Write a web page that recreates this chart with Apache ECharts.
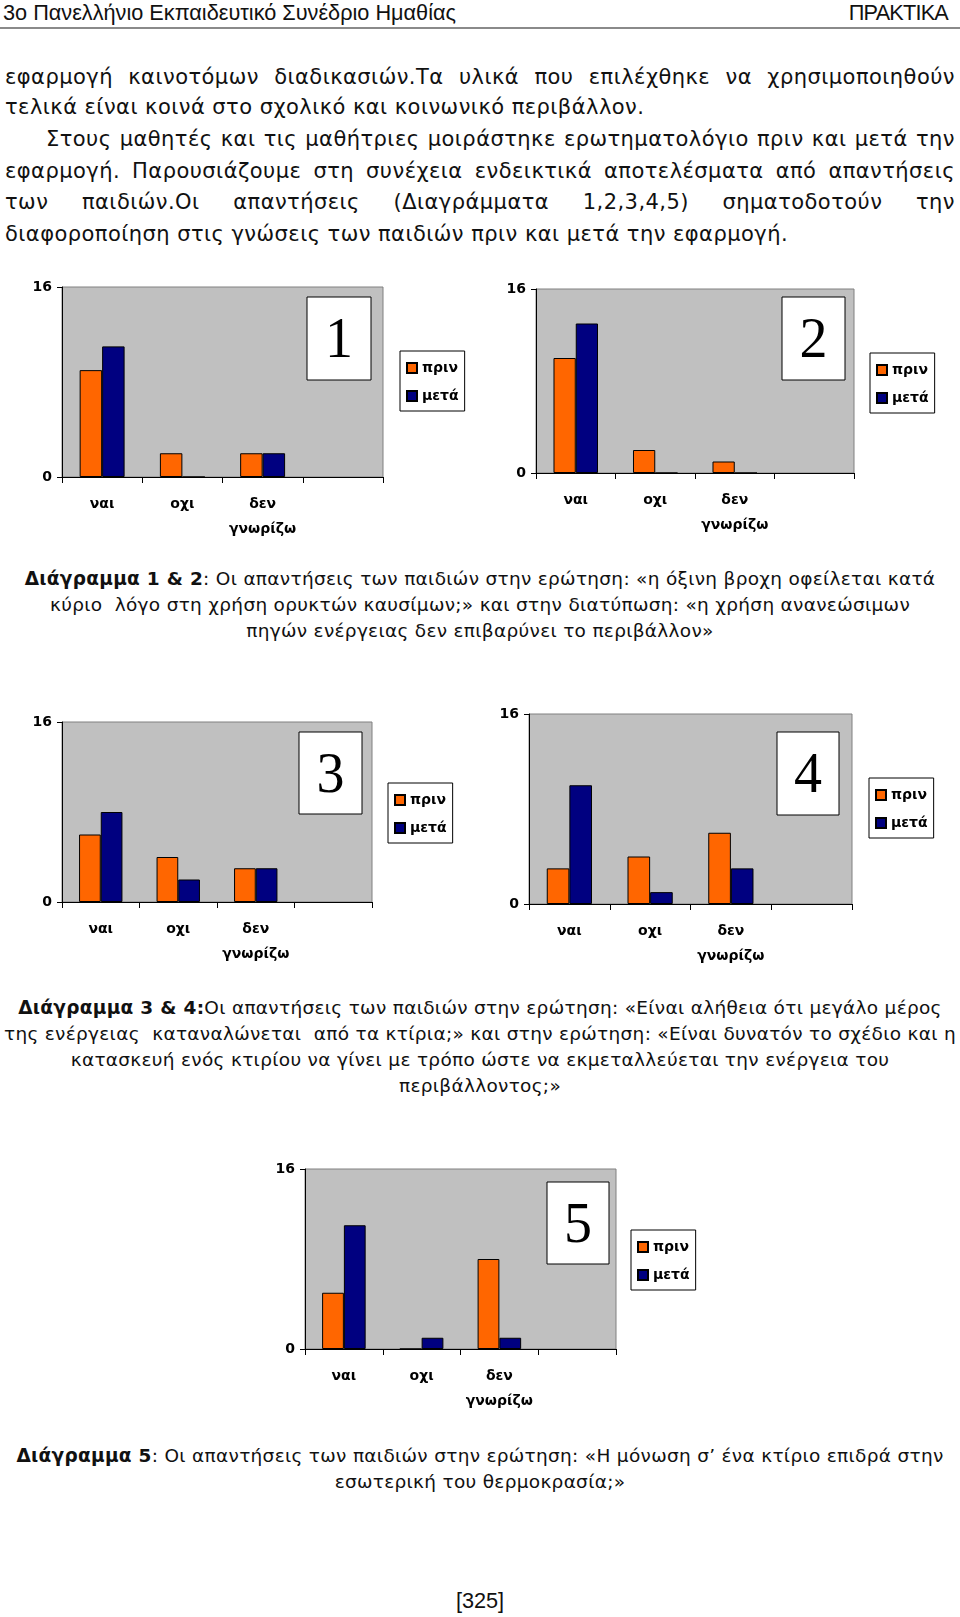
<!DOCTYPE html>
<html>
<head>
<meta charset="utf-8">
<script src="https://cdn.jsdelivr.net/npm/echarts@6/dist/echarts.min.js"></script>
<style>
  html, body { margin:0; padding:0; background:#fff; }
  #page { position:relative; width:960px; height:1617px; overflow:hidden; color:#111; }
  .t { position:absolute; white-space:nowrap; font-family:"DejaVu Sans", sans-serif; }
  .hdr { font-family:"Liberation Sans Narrow","Liberation Sans",sans-serif; font-size:21.7px; line-height:26px; top:0; }
  .p { font-size:21px; letter-spacing:0.45px; line-height:30px; height:30px; }
  .j { text-align:justify; text-align-last:justify; white-space:normal; }
  .c { font-size:18.5px; letter-spacing:0.3px; line-height:26px; height:26px; left:0; width:960px; text-align:center; }
  .c b { font-weight:bold; }
  #chart { position:absolute; left:0; top:0; width:960px; height:1617px; }
</style>
</head>
<body>
<div id="page">
  <div class="t hdr" style="left:3px;">3ο Πανελλήνιο Εκπαιδευτικό Συνέδριο Ημαθίας</div>
  <div class="t hdr" style="right:12px;letter-spacing:-0.8px;">ΠΡΑΚΤΙΚΑ</div>
  <div style="position:absolute;left:0;top:27px;width:960px;height:2px;background:#8a8a8a;"></div>

  <div class="t p j" style="left:5px;width:950px;top:62px;">εφαρμογή καινοτόμων διαδικασιών.Τα υλικά που επιλέχθηκε να χρησιμοποιηθούν</div>
  <div class="t p" style="left:5px;top:92px;">τελικά είναι κοινά στο σχολικό και κοινωνικό περιβάλλον.</div>
  <div class="t p j" style="left:46px;width:909px;top:124px;">Στους μαθητές και τις μαθήτριες μοιράστηκε ερωτηματολόγιο πριν και μετά την</div>
  <div class="t p j" style="left:5px;width:950px;top:156px;">εφαρμογή. Παρουσιάζουμε στη συνέχεια ενδεικτικά αποτελέσματα από απαντήσεις</div>
  <div class="t p j" style="left:5px;width:950px;top:187px;">των παιδιών.Οι απαντήσεις (Διαγράμματα 1,2,3,4,5) σηματοδοτούν την</div>
  <div class="t p" style="left:5px;top:219px;">διαφοροποίηση στις γνώσεις των παιδιών πριν και μετά την εφαρμογή.</div>

  <div class="t c" style="top:566px;"><b>Διάγραμμα 1 &amp; 2</b>: Οι απαντήσεις των παιδιών στην ερώτηση: «η όξινη βροχη οφείλεται κατά</div>
  <div class="t c" style="top:592px;">κύριο&nbsp; λόγο στη χρήση ορυκτών καυσίμων;» και στην διατύπωση: «η χρήση ανανεώσιμων</div>
  <div class="t c" style="top:618px;">πηγών ενέργειας δεν επιβαρύνει το περιβάλλον»</div>

  <div class="t c" style="top:995px;"><b>Διάγραμμα 3 &amp; 4:</b>Οι απαντήσεις των παιδιών στην ερώτηση: «Είναι αλήθεια ότι μεγάλο μέρος</div>
  <div class="t c" style="top:1021px;">της ενέργειας&nbsp; καταναλώνεται&nbsp; από τα κτίρια;» και στην ερώτηση: «Είναι δυνατόν το σχέδιο και η</div>
  <div class="t c" style="top:1047px;">κατασκευή ενός κτιρίου να γίνει με τρόπο ώστε να εκμεταλλεύεται την ενέργεια του</div>
  <div class="t c" style="top:1073px;">περιβάλλοντος;»</div>

  <div class="t c" style="top:1443px;"><b>Διάγραμμα 5</b>: Οι απαντήσεις των παιδιών στην ερώτηση: «Η μόνωση σ’ ένα κτίριο επιδρά στην</div>
  <div class="t c" style="top:1469px;">εσωτερική του θερμοκρασία;»</div>

  <div class="t hdr" style="left:0;width:960px;text-align:center;top:1588px;">[325]</div>

  <div id="chart"></div>
</div>
<script>
// ---- data ----
const categories = ['ναι', 'οχι', 'δεν\nγνωρίζω', ''];
const seriesNames = ['πριν', 'μετά'];
const yTickValues = [0, 16];
const chartLabels = ['1', '2', '3', '4', '5'];
const prin1 = [9, 2, 2];
const meta1 = [11, 0, 2];
const prin2 = [10, 2, 1];
const meta2 = [13, 0, 0];
const prin3 = [6, 4, 3];
const meta3 = [8, 2, 3];
const prin4 = [3, 4, 6];
const meta4 = [10, 1, 3];
const prin5 = [5, 0, 8];
const meta5 = [11, 1, 1];

const prinAll = [prin1, prin2, prin3, prin4, prin5];
const metaAll = [meta1, meta2, meta3, meta4, meta5];

// ---- layout ----
const grids = [
  { left: 62,  top: 287,  width: 321, height: 190 },
  { left: 536, top: 289,  width: 318, height: 184 },
  { left: 62,  top: 722,  width: 310, height: 180 },
  { left: 529, top: 714,  width: 323, height: 190 },
  { left: 305, top: 1169, width: 311, height: 180 }
];
const numBoxes = [
  { x: 307, y: 297,  w: 64, h: 83 },
  { x: 782, y: 297,  w: 63, h: 83 },
  { x: 299, y: 732,  w: 63, h: 82 },
  { x: 777, y: 732,  w: 62, h: 83 },
  { x: 547, y: 1182, w: 62, h: 82 }
];
const legendPos = [
  { left: 400, top: 351 },
  { left: 870, top: 353 },
  { left: 388, top: 783 },
  { left: 869, top: 778 },
  { left: 631, top: 1230 }
];

const FONT = '"DejaVu Sans", sans-serif';
const chart = echarts.init(document.getElementById('chart'), null, { renderer: 'canvas' });

const option = {
  animation: false,
  backgroundColor: 'transparent',
  grid: grids.map(g => Object.assign({}, g, {
    show: true, backgroundColor: '#c0c0c0', borderColor: '#808080', borderWidth: 1
  })),
  xAxis: grids.map((g, i) => ({
    type: 'category', gridIndex: i, data: categories,
    axisLine: { show: true, lineStyle: { color: '#000', width: 1 } },
    axisTick: { show: true, length: 6, lineStyle: { color: '#000', width: 1 } },
    axisLabel: { color: '#000', fontFamily: FONT, fontWeight: 'bold', fontSize: 14, lineHeight: 25, margin: 15, interval: 0 },
    splitLine: { show: false }
  })),
  yAxis: grids.map((g, i) => ({
    type: 'value', gridIndex: i, min: yTickValues[0], max: yTickValues[1], interval: yTickValues[1] - yTickValues[0],
    axisLine: { show: true, lineStyle: { color: '#000', width: 1 } },
    axisTick: { show: true, length: 5, lineStyle: { color: '#000', width: 1 } },
    axisLabel: { color: '#000', fontFamily: FONT, fontWeight: 'bold', fontSize: 14, margin: 10 },
    splitLine: { show: false }
  })),
  legend: grids.map((g, i) => ({
    data: seriesNames, orient: 'vertical',
    left: legendPos[i].left, top: legendPos[i].top,
    backgroundColor: '#fff', borderColor: '#000', borderWidth: 1,
    padding: [10, 6, 8, 6], itemGap: 14, itemWidth: 10, itemHeight: 10, icon: 'rect',
    selectedMode: false,
    textStyle: { color: '#000', fontFamily: FONT, fontWeight: 'bold', fontSize: 14 }
  })),
  series: [],
  graphic: []
};

grids.forEach((g, i) => {
  option.series.push({
    name: seriesNames[0], type: 'bar', xAxisIndex: i, yAxisIndex: i,
    data: prinAll[i], barWidth: '28%', barGap: '0%',
    itemStyle: { color: '#ff6600', borderColor: '#000', borderWidth: 1 }
  });
  option.series.push({
    name: seriesNames[1], type: 'bar', xAxisIndex: i, yAxisIndex: i,
    data: metaAll[i], barWidth: '28%', barGap: '0%',
    itemStyle: { color: '#000080', borderColor: '#000', borderWidth: 1 }
  });
  const b = numBoxes[i];
  option.graphic.push({
    type: 'group', children: [
      { type: 'rect', shape: { x: b.x, y: b.y, width: b.w, height: b.h },
        style: { fill: '#fff', stroke: '#000', lineWidth: 1 } },
      { type: 'text', style: { text: chartLabels[i], x: b.x + b.w / 2, y: b.y + b.h / 2 + 4,
        align: 'center', verticalAlign: 'middle', fill: '#000',
        fontFamily: '"Liberation Serif", "DejaVu Serif", serif', fontSize: 56 } }
    ]
  });
});

chart.setOption(option);
</script>
</body>
</html>
